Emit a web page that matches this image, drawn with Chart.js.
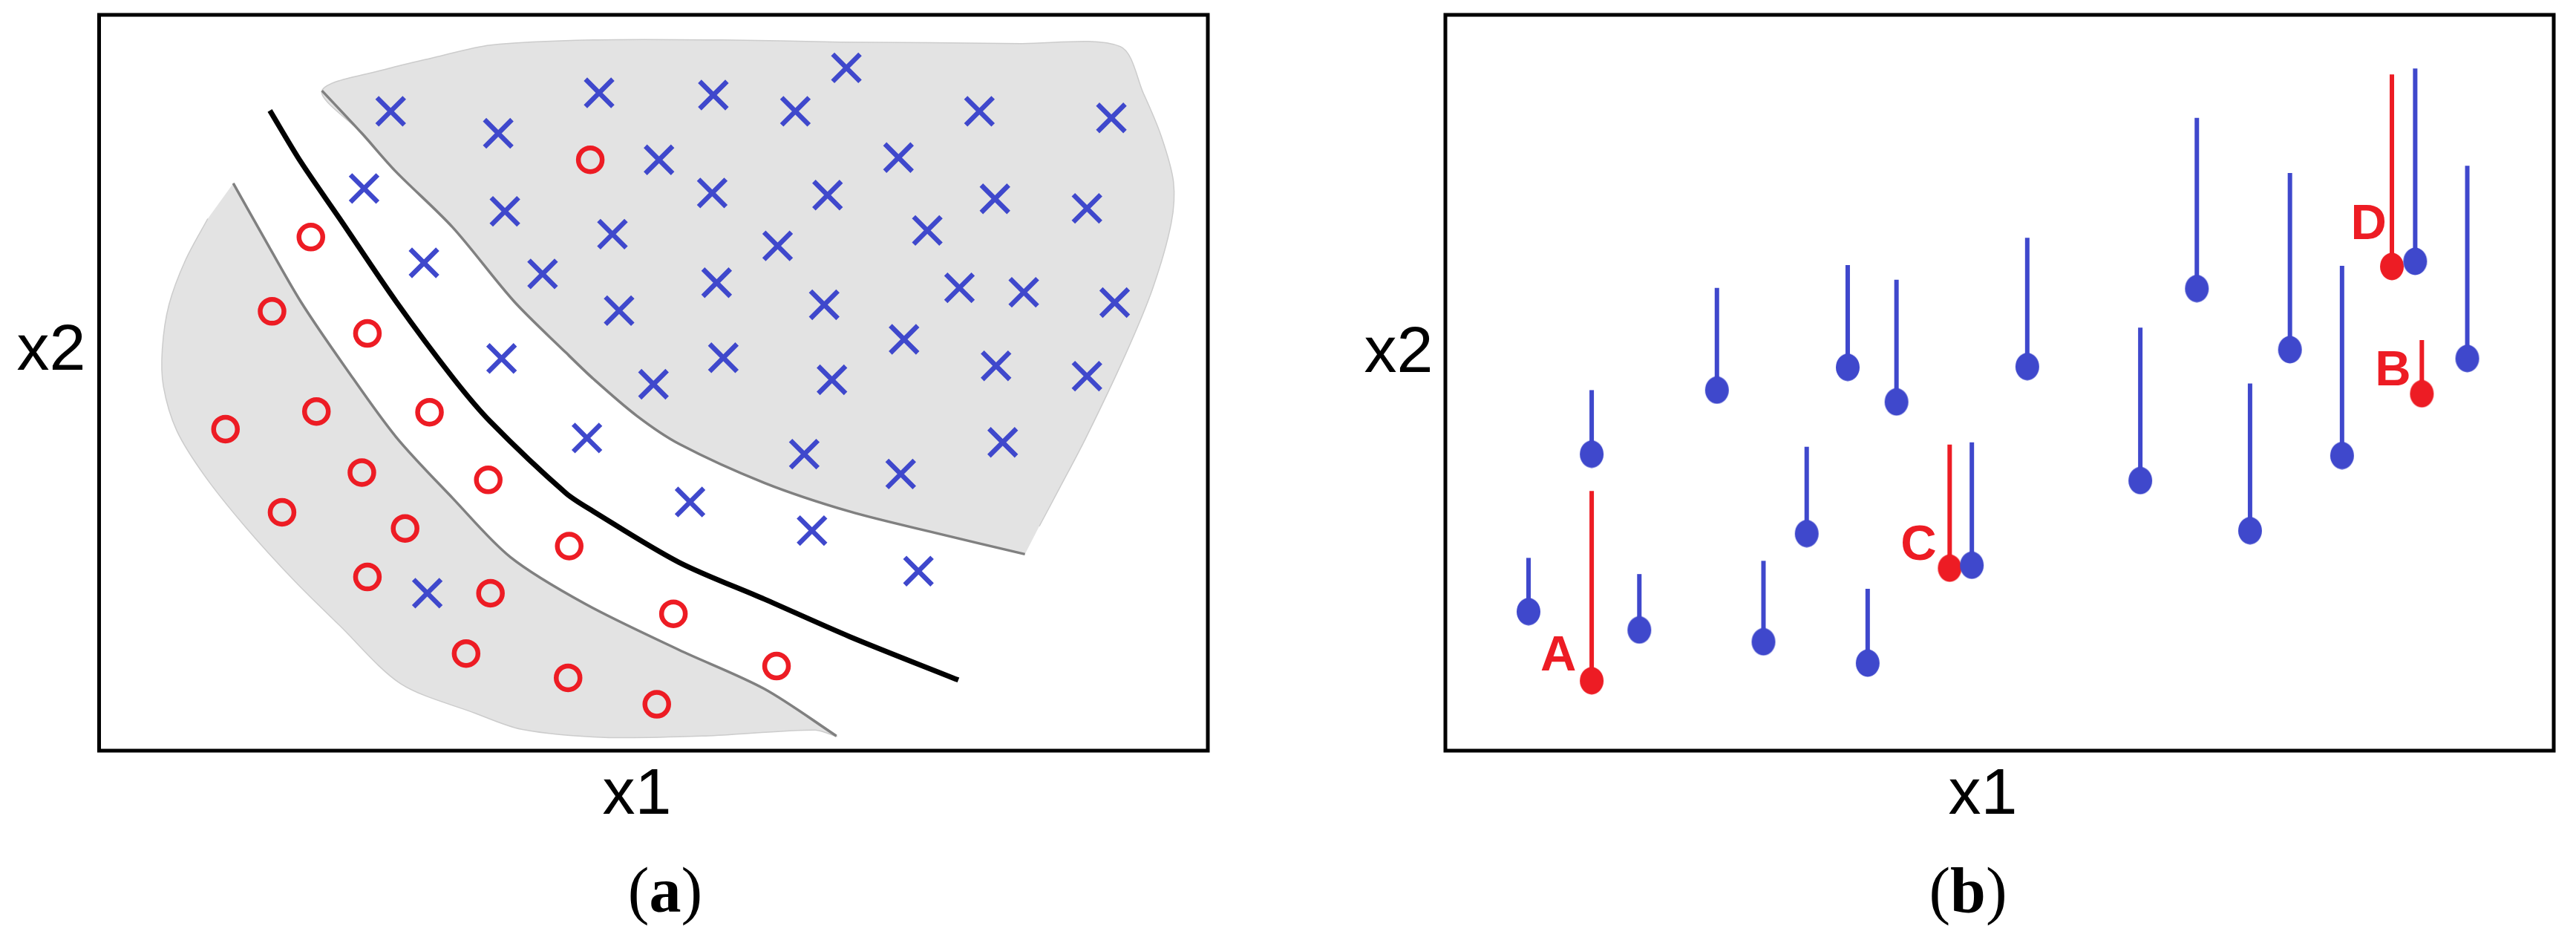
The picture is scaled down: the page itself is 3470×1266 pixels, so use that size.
<!DOCTYPE html>
<html>
<head>
<meta charset="utf-8">
<script src="https://cdn.jsdelivr.net/npm/chart.js@4.4.1/dist/chart.umd.min.js"></script>
<style>
  body { margin: 0; background: #fff; }
  #page { position: relative; width: 3470px; height: 1266px; overflow: hidden; background: #fff; }
  .panel { position: absolute; top: 0; width: 1735px; height: 1266px; }
  .axis { position: absolute; font-family: "Liberation Sans", Arial, sans-serif; font-size: 88px; line-height: 1; color: #000; transform: translate(-50%, -50%); white-space: nowrap; }
  .cap { position: absolute; font-family: "Liberation Serif", "Times New Roman", serif; font-size: 86px; line-height: 1; color: #000; transform: translate(-50%, -50%); white-space: nowrap; }
  .tag { position: absolute; font-family: "Liberation Sans", Arial, sans-serif; font-weight: bold; font-size: 67px; line-height: 1; color: #ed1c24; transform: translate(-50%, -50%); }
</style>
</head>
<body>
<div id="page">
  <div class="panel" id="wrapA" style="left:0"><canvas id="chartA"></canvas></div>
  <div class="panel" id="wrapB" style="left:1735px"><canvas id="chartB"></canvas></div>

  <div class="axis" style="left:69px; top:468px">x2</div>
  <div class="axis" style="left:858px; top:1066px">x1</div>
  <div class="cap" style="left:896px; top:1199px">(<b>a</b>)</div>

  <div class="axis" style="left:1884px; top:471px">x2</div>
  <div class="axis" style="left:2671px; top:1066px">x1</div>
  <div class="cap" style="left:2651px; top:1199px">(<b>b</b>)</div>
</div>

<script>
// ---- panel (a): classes and margins (axes 0..100) ----
const crossX = [26.3, 36.0, 45.1, 55.4, 62.8, 67.4, 79.4, 91.3, 50.5, 72.1, 23.9, 36.6, 55.3, 65.7, 80.8, 89.1, 46.3, 74.7, 61.2, 29.3, 40.0, 55.7, 46.9, 65.4, 77.6, 83.4, 91.6, 72.6, 36.3, 56.3, 50.0, 66.1, 80.9, 89.1, 44.0, 63.6, 81.5, 72.3, 53.3, 64.3, 73.9, 29.6];
const crossY = [86.9, 83.9, 89.4, 89.1, 86.9, 92.8, 86.9, 86.0, 80.3, 80.6, 76.4, 73.3, 75.8, 75.5, 75.0, 73.7, 70.2, 70.7, 68.6, 66.3, 64.8, 63.6, 59.8, 60.6, 62.9, 62.3, 60.9, 55.9, 53.3, 53.4, 49.8, 50.4, 52.3, 50.9, 42.5, 40.3, 41.9, 37.6, 33.8, 29.9, 24.4, 21.4];

const circleX = [44.3, 19.1, 15.6, 24.2, 19.6, 11.4, 29.8, 23.7, 35.1, 16.5, 27.6, 42.4, 24.2, 35.3, 51.8, 33.1, 61.1, 42.3, 50.3];
const circleY = [80.3, 69.8, 59.7, 56.7, 46.1, 43.7, 46.0, 37.8, 36.8, 32.4, 30.2, 27.8, 23.6, 21.4, 18.6, 13.2, 11.5, 9.9, 6.3];

const boundaryX = [15.4, 18.2, 21.7, 26.8, 31.9, 35.3, 42.1, 44.6, 52.3, 60.0, 67.7, 77.5];
const boundaryY = [87.0, 80.0, 72.3, 61.0, 50.7, 44.7, 35.0, 32.5, 25.6, 20.6, 15.5, 9.6];

const upperEdgeX = [20.1, 23.7, 26.7, 31.9, 37.4, 42.1, 44.6, 48.5, 52.3, 60.0, 67.7, 75.4, 83.5];
const upperEdgeY = [89.7, 83.9, 78.8, 71.1, 61.1, 54.1, 50.5, 45.5, 41.7, 36.4, 32.5, 29.6, 26.7];
const upperOuterX = [84.8, 86.6, 89.0, 92.5, 95.0, 96.7, 96.9, 95.8, 94.2, 92.1, 83.1, 66.9, 56.1, 44.6, 35.3, 30.2, 26.1];
const upperOuterY = [30.5, 35.6, 42.5, 53.6, 62.7, 71.7, 77.3, 83.5, 89.3, 95.7, 96.1, 96.3, 96.6, 96.6, 95.9, 94.2, 92.7];

const lowerEdgeX = [12.1, 14.8, 18.2, 22.3, 26.8, 31.9, 37.1, 43.9, 52.3, 60.0, 66.5];
const lowerEdgeY = [77.1, 69.9, 61.0, 51.9, 42.6, 34.3, 26.3, 19.9, 13.7, 8.4, 2.0];
const lowerOuterX = [64.6, 54.7, 45.6, 38.1, 33.9, 27.2, 21.7, 17.6, 13.2, 9.5, 7.0, 5.8, 5.7, 6.3, 7.8, 9.8];
const lowerOuterY = [2.8, 2.0, 1.8, 2.9, 5.1, 9.1, 17.0, 23.1, 30.4, 37.4, 43.5, 49.5, 54.6, 60.6, 66.7, 72.3];

// ---- panel (b): stems (axes 0..100) ----
const stemX = [7.5, 13.2, 17.5, 24.5, 28.7, 32.6, 36.3, 38.1, 40.7, 47.5, 52.5, 62.7, 67.8, 72.6, 76.2, 80.9, 87.5, 92.2];
const stemBase = [18.9, 40.3, 16.4, 49.0, 14.8, 29.5, 52.1, 11.9, 47.4, 25.2, 52.2, 36.7, 62.8, 29.9, 54.5, 40.1, 66.5, 53.3];
const stemTop = [26.2, 49.0, 24.0, 62.9, 25.8, 41.3, 66.0, 22.0, 64.0, 41.9, 69.7, 57.5, 86.0, 49.9, 78.5, 65.9, 92.7, 79.5];

const redNames = ['A', 'C', 'D', 'B'];
const redX = [13.2, 45.5, 85.4, 88.1];
const redBase = [9.5, 24.8, 65.8, 48.5];
const redTop = [35.3, 41.6, 91.9, 55.8];
const tagX = [10.2, 42.7, 83.3, 85.5];
const tagY = [13.3, 28.4, 71.9, 52.1];

const BLUE = '#3f48cc';
const RED = '#ed1c24';

const pts = (xs, ys) => xs.map((x, i) => ({ x: x, y: ys[i] }));

function makeDot(color) {
    const c = document.createElement('canvas');
    c.width = 34; c.height = 38;
    const g = c.getContext('2d');
    g.fillStyle = color;
    g.beginPath();
    g.ellipse(17, 19, 16, 18.5, 0, 0, Math.PI * 2);
    g.fill();
    return c;
}

const framePlugin = {
    id: 'frame',
    afterDraw(chart) {
        const { ctx, chartArea: a } = chart;
        ctx.save();
        ctx.strokeStyle = '#000';
        ctx.lineWidth = 5;
        ctx.strokeRect(a.left, a.top, a.right - a.left, a.bottom - a.top);
        ctx.restore();
    }
};

function baseOptions(pad) {
    return {
        responsive: true,
        maintainAspectRatio: false,
        animation: false,
        devicePixelRatio: 1,
        events: [],
        layout: { padding: pad, autoPadding: false },
        scales: {
            x: { type: 'linear', min: 0, max: 100, display: false },
            y: { type: 'linear', min: 0, max: 100, display: false }
        },
        plugins: { legend: { display: false }, tooltip: { enabled: false } }
    };
}

function lineSet(data, color, width, tension, order) {
    return {
        data: data, showLine: true, borderColor: color, borderWidth: width,
        pointRadius: 0, tension: tension, fill: false, order: order, clip: false
    };
}

// ---- chart (a) ----
// the upper shape starts just after its lower-right corner so the spline keeps that corner sharp
const upperShape = pts(upperOuterX.concat(upperEdgeX), upperOuterY.concat(upperEdgeY));
const lowerShape = pts(lowerEdgeX.concat(lowerOuterX), lowerEdgeY.concat(lowerOuterY));

new Chart(document.getElementById('chartA'), {
    type: 'scatter',
    data: {
        datasets: [
            { data: upperShape, showLine: true, fill: 'shape', backgroundColor: '#e3e3e3',
              borderColor: '#cccccc', borderWidth: 1.5, pointRadius: 0, tension: 0.3, order: 6 },
            { data: lowerShape, showLine: true, fill: 'shape', backgroundColor: '#e3e3e3',
              borderColor: '#cccccc', borderWidth: 1.5, pointRadius: 0, tension: 0.3, order: 6 },
            lineSet(pts(upperEdgeX, upperEdgeY), '#808080', 3.5, 0.3, 5),
            lineSet(pts(lowerEdgeX, lowerEdgeY), '#808080', 3.5, 0.3, 5),
            lineSet(pts(boundaryX, boundaryY), '#000000', 7, 0.3, 4),
            { data: pts(crossX, crossY), pointStyle: 'crossRot', pointRadius: 26,
              pointBorderWidth: 6.5, pointBorderColor: BLUE, order: 1, clip: false },
            { data: pts(circleX, circleY), pointStyle: 'circle', pointRadius: 16,
              pointBorderWidth: 6.5, pointBorderColor: RED, pointBackgroundColor: 'rgba(0,0,0,0)', order: 1, clip: false }
        ]
    },
    options: baseOptions({ left: 133.5, right: 108, top: 20, bottom: 255 }),
    plugins: [framePlugin]
});

// ---- chart (b) ----
const wrapB = document.getElementById('wrapB');
redNames.forEach(name => {
    const el = document.createElement('div');
    el.className = 'tag';
    el.id = 'tag' + name;
    el.textContent = name;
    wrapB.appendChild(el);
});

const tagPlugin = {
    id: 'tags',
    afterRender(chart) {
        redNames.forEach((name, i) => {
            const el = document.getElementById('tag' + name);
            el.style.left = chart.scales.x.getPixelForValue(tagX[i]) + 'px';
            el.style.top = chart.scales.y.getPixelForValue(tagY[i]) + 'px';
        });
    }
};

const blueDot = makeDot(BLUE);
const redDot = makeDot(RED);

const stemSets = stemX.map((x, i) => lineSet([{ x: x, y: stemBase[i] }, { x: x, y: stemTop[i] }], BLUE, 6, 0, 3));
const redStemSets = redX.map((x, i) => lineSet([{ x: x, y: redBase[i] }, { x: x, y: redTop[i] }], RED, 6, 0, 3));

new Chart(document.getElementById('chartB'), {
    type: 'scatter',
    data: {
        datasets: stemSets.concat(redStemSets, [
            { data: pts(redX, redBase), pointStyle: redDot, pointRadius: 17, order: 2, clip: false },
            { data: pts(stemX, stemBase), pointStyle: blueDot, pointRadius: 17, order: 1, clip: false }
        ])
    },
    options: baseOptions({ left: 212, right: 30, top: 20, bottom: 255 }),
    plugins: [framePlugin, tagPlugin]
});
</script>
</body>
</html>
